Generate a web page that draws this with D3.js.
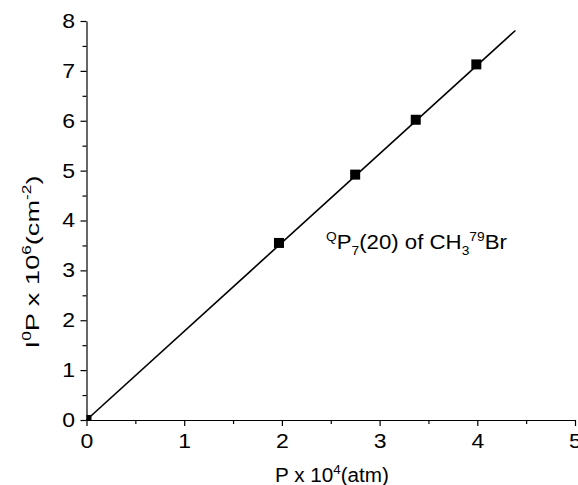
<!DOCTYPE html>
<html>
  <head>
    <title></title>
    <script src="https://cdnjs.cloudflare.com/ajax/libs/d3/7.8.5/d3.min.js"></script>
    <style type="text/css">
        html, body{
            padding: 0px;
            margin: 0px;
            background: #fff;
        }
        svg text{
            font-family: "Liberation Sans", Arial, sans-serif;
            fill: #000;
        }
    </style>
  </head>
  <body>
    <div id="vis"></div>
    <script type="text/javascript">

        // measured points, P x 10^4 (atm) vs I0P x 10^6 (cm^-2)
        var pressure = [0, 1.97, 2.75, 3.37, 3.99];
        var intensity = [0, 3.55, 4.92, 6.02, 7.13];

        // linear fit drawn through the points
        var fitX = [0, 4.39];
        var fitY = [0, 7.81];

        var xTicks = [0, 1, 2, 3, 4, 5];
        var yTicks = [0, 1, 2, 3, 4, 5, 6, 7, 8];
        var xMinor = [0.5, 1.5, 2.5, 3.5, 4.5];
        var yMinor = [0.5, 1.5, 2.5, 3.5, 4.5, 5.5, 6.5, 7.5];

        var width = 578,
            height = 485;

        var x = d3.scaleLinear().domain([0, 5]).range([86.5, 575]);
        var y = d3.scaleLinear().domain([0, 8]).range([420, 21]);

        var svg = d3.select("#vis").append("svg")
            .attr("width", width)
            .attr("height", height);

        svg.append("clipPath").attr("id", "plot")
            .append("rect")
            .attr("x", x(0)).attr("y", 0)
            .attr("width", width - x(0)).attr("height", y(0));

        // minor ticks first so the major axis line sits on top
        svg.append("g")
            .attr("transform", "translate(0,420)")
            .call(d3.axisBottom(x).tickValues(xMinor).tickSize(4).tickFormat(""))
            .call(g => g.select(".domain").remove());

        svg.append("g")
            .attr("transform", "translate(86.5,0)")
            .call(d3.axisLeft(y).tickValues(yMinor).tickSize(4).tickFormat(""))
            .call(g => g.select(".domain").remove());

        var xAxis = svg.append("g")
            .attr("transform", "translate(0,420)")
            .call(d3.axisBottom(x).tickValues(xTicks).tickSize(6).tickSizeOuter(0).tickPadding(8).tickFormat(d3.format("d")));

        var yAxis = svg.append("g")
            .attr("transform", "translate(86.5,0)")
            .call(d3.axisLeft(y).tickValues(yTicks).tickSize(6).tickSizeOuter(0).tickPadding(5).tickFormat(d3.format("d")));

        svg.selectAll(".tick line, .domain")
            .attr("stroke", "#000")
            .attr("stroke-width", 1.2);

        svg.selectAll(".tick text")
            .style("font-size", "20px")
            .attr("fill", "#000");

        // the exported figure is a bit wide, stretch the digits to match
        xAxis.selectAll(".tick text").attr("transform", "scale(1.15,1)");
        yAxis.selectAll(".tick text").attr("x", -10).attr("transform", "scale(1.15,1)");

        // fit line
        var line = d3.line()
            .x(d => x(d[0]))
            .y(d => y(d[1]));

        svg.append("path")
            .datum(d3.zip(fitX, fitY))
            .attr("d", line)
            .attr("fill", "none")
            .attr("stroke", "#000")
            .attr("stroke-width", 1.6);

        // square markers, clipped to the plot area like the original
        svg.append("g")
            .attr("clip-path", "url(#plot)")
            .selectAll("rect.pt")
            .data(d3.zip(pressure, intensity))
            .enter().append("rect")
            .attr("class", "pt")
            .attr("x", d => x(d[0]) - 5)
            .attr("y", d => y(d[1]) - 5)
            .attr("width", 10)
            .attr("height", 10)
            .attr("fill", "#000");

        // stretch a text node along its own reading direction to a given length
        function fitTo(sel, len){
            var w = sel.node().getComputedTextLength();
            return len / w;
        }

        // x axis title
        var xtg = svg.append("g");
        var xt = xtg.append("text")
            .attr("text-anchor", "middle")
            .style("font-size", "20px");
        xt.append("tspan").text("P x 10");
        xt.append("tspan").attr("dy", -8).style("font-size", "13px").text("4");
        xt.append("tspan").attr("dy", 8).text("(atm)");
        xtg.attr("transform", "translate(332,482) scale(" + fitTo(xt, 114) + ",1)");

        // y axis title
        var ytg = svg.append("g");
        var yt = ytg.append("text")
            .attr("text-anchor", "middle")
            .style("font-size", "19px");
        yt.append("tspan").text("I");
        yt.append("tspan").attr("dy", -8).style("font-size", "12px").text("0");
        yt.append("tspan").attr("dy", 8).text("P x 10");
        yt.append("tspan").attr("dy", -8).style("font-size", "12px").text("6");
        yt.append("tspan").attr("dy", 8).text("(cm");
        yt.append("tspan").attr("dy", -8).style("font-size", "12px").text("-2");
        yt.append("tspan").attr("dy", 8).text(")");
        ytg.attr("transform", "translate(38.5,262) rotate(-90) scale(" + fitTo(yt, 173) + ",1)");

        // annotation
        var ang = svg.append("g");
        var ann = ang.append("text")
            .style("font-size", "21px");
        ann.append("tspan").attr("dy", -8).style("font-size", "13px").text("Q");
        ann.append("tspan").attr("dy", 8).text("P");
        ann.append("tspan").attr("dy", 6).style("font-size", "13px").text("7");
        ann.append("tspan").attr("dy", -6).text("(20) of CH");
        ann.append("tspan").attr("dy", 6).style("font-size", "13px").text("3");
        ann.append("tspan").attr("dy", -14).style("font-size", "13px").text("79");
        ann.append("tspan").attr("dy", 8).text("Br");
        ang.attr("transform", "translate(326,249) scale(" + fitTo(ann, 181) + ",1)");

    </script>
  </body>
</html>
